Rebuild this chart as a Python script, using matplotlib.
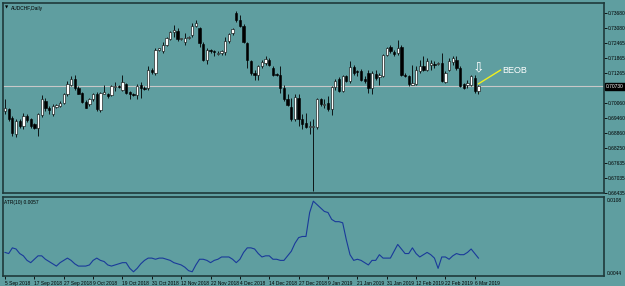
import matplotlib.pyplot as plt
import numpy as np
import pandas as pd

plt.close('all')

# daily AUDCHF candles
opens = [0.6973, 0.6980, 0.6947, 0.6880, 0.6933, 0.6913, 0.6953, 0.6940, 0.6920, 0.6907,
         0.6957, 0.7013, 0.6987, 0.6960, 0.6991, 0.6993, 0.7007, 0.7040, 0.7077, 0.7104,
         0.7067, 0.7047, 0.7011, 0.7000, 0.7020, 0.7043, 0.6976, 0.7043, 0.7040, 0.7037,
         0.7069, 0.7073, 0.7060, 0.7083, 0.7051, 0.7043, 0.7037, 0.7080, 0.7067, 0.7067,
         0.7140, 0.7127, 0.7220, 0.7213, 0.7240, 0.7264, 0.7291, 0.7296, 0.7263, 0.7251,
         0.7267, 0.7280, 0.7317, 0.7307, 0.7243, 0.7180, 0.7220, 0.7213, 0.7203, 0.7207,
         0.7211, 0.7256, 0.7287, 0.7367, 0.7340, 0.7317, 0.7247, 0.7176, 0.7127, 0.7117,
         0.7153, 0.7167, 0.7180, 0.7147, 0.7123, 0.7117, 0.7067, 0.7020, 0.6989, 0.6940,
         0.7024, 0.6940, 0.6927, 0.6909, 0.6909, 0.6909, 0.7020, 0.6997, 0.7007, 0.6980,
         0.7069, 0.7104, 0.7053, 0.7113, 0.7093, 0.7149, 0.7136, 0.7136, 0.7104, 0.7127,
         0.7067, 0.7123, 0.7109, 0.7113, 0.7200, 0.7233, 0.7209, 0.7207, 0.7233, 0.7120,
         0.7113, 0.7080, 0.7083, 0.7136, 0.7153, 0.7137, 0.7160, 0.7163, 0.7163, 0.7167,
         0.7091, 0.7140, 0.7171, 0.7180, 0.7147, 0.7083, 0.7080, 0.7080, 0.7107, 0.7056]
highs = [0.7020, 0.6987, 0.6953, 0.6940, 0.6940, 0.6967, 0.6960, 0.6944, 0.6927, 0.6967,
         0.7037, 0.7027, 0.6993, 0.7000, 0.7003, 0.7013, 0.7047, 0.7093, 0.7113, 0.7120,
         0.7073, 0.7051, 0.7016, 0.7027, 0.7047, 0.7051, 0.7051, 0.7080, 0.7047, 0.7077,
         0.7091, 0.7080, 0.7117, 0.7087, 0.7053, 0.7047, 0.7083, 0.7091, 0.7073, 0.7153,
         0.7147, 0.7227, 0.7229, 0.7253, 0.7271, 0.7296, 0.7320, 0.7307, 0.7269, 0.7287,
         0.7277, 0.7327, 0.7340, 0.7313, 0.7251, 0.7227, 0.7224, 0.7220, 0.7213, 0.7220,
         0.7273, 0.7287, 0.7307, 0.7376, 0.7360, 0.7323, 0.7251, 0.7180, 0.7140, 0.7160,
         0.7180, 0.7193, 0.7187, 0.7153, 0.7127, 0.7153, 0.7080, 0.7040, 0.7027, 0.7043,
         0.7040, 0.6960, 0.6967, 0.6933, 0.6940, 0.7027, 0.7027, 0.7020, 0.7033, 0.7073,
         0.7104, 0.7109, 0.7117, 0.7120, 0.7173, 0.7160, 0.7140, 0.7144, 0.7113, 0.7140,
         0.7133, 0.7140, 0.7127, 0.7203, 0.7233, 0.7240, 0.7220, 0.7260, 0.7240, 0.7127,
         0.7120, 0.7160, 0.7153, 0.7180, 0.7193, 0.7187, 0.7180, 0.7173, 0.7171, 0.7207,
         0.7133, 0.7187, 0.7193, 0.7193, 0.7153, 0.7087, 0.7100, 0.7120, 0.7120, 0.7080]
lows = [0.6960, 0.6933, 0.6873, 0.6867, 0.6907, 0.6900, 0.6931, 0.6907, 0.6900, 0.6873,
        0.6949, 0.6973, 0.6960, 0.6953, 0.6987, 0.6989, 0.7003, 0.7033, 0.7073, 0.7060,
        0.7040, 0.7007, 0.6984, 0.6993, 0.7013, 0.6973, 0.6971, 0.7040, 0.7027, 0.7033,
        0.7056, 0.7067, 0.7056, 0.7043, 0.7020, 0.7033, 0.7020, 0.7027, 0.7060, 0.7060,
        0.7123, 0.7120, 0.7216, 0.7207, 0.7237, 0.7260, 0.7273, 0.7256, 0.7259, 0.7240,
        0.7264, 0.7273, 0.7313, 0.7233, 0.7173, 0.7163, 0.7207, 0.7193, 0.7197, 0.7200,
        0.7200, 0.7247, 0.7280, 0.7333, 0.7313, 0.7247, 0.7147, 0.7120, 0.7100, 0.7100,
        0.7147, 0.7160, 0.7153, 0.7113, 0.7113, 0.7047, 0.7013, 0.6993, 0.6933, 0.6933,
        0.6913, 0.6900, 0.6904, 0.6880, 0.6653, 0.6900, 0.6993, 0.6987, 0.6973, 0.6957,
        0.7060, 0.7051, 0.7051, 0.7091, 0.7087, 0.7120, 0.7113, 0.7093, 0.7087, 0.7047,
        0.7043, 0.7100, 0.7080, 0.7109, 0.7193, 0.7207, 0.7193, 0.7200, 0.7113, 0.7109,
        0.7073, 0.7077, 0.7080, 0.7127, 0.7133, 0.7133, 0.7140, 0.7147, 0.7157, 0.7091,
        0.7087, 0.7133, 0.7160, 0.7140, 0.7069, 0.7064, 0.7067, 0.7073, 0.7047, 0.7043]
closes = [0.6987, 0.6940, 0.6887, 0.6933, 0.6913, 0.6953, 0.6936, 0.6913, 0.6904, 0.6960,
          0.7020, 0.6987, 0.6979, 0.6993, 0.6996, 0.7007, 0.7040, 0.7083, 0.7104, 0.7067,
          0.7043, 0.7011, 0.6987, 0.7020, 0.7043, 0.6980, 0.7047, 0.7051, 0.7033, 0.7073,
          0.7073, 0.7069, 0.7089, 0.7047, 0.7043, 0.7037, 0.7076, 0.7067, 0.7064, 0.7140,
          0.7131, 0.7220, 0.7227, 0.7240, 0.7267, 0.7291, 0.7300, 0.7264, 0.7267, 0.7267,
          0.7273, 0.7317, 0.7327, 0.7247, 0.7180, 0.7220, 0.7213, 0.7209, 0.7207, 0.7213,
          0.7256, 0.7283, 0.7304, 0.7340, 0.7317, 0.7251, 0.7180, 0.7127, 0.7117, 0.7153,
          0.7171, 0.7184, 0.7157, 0.7120, 0.7117, 0.7067, 0.7020, 0.6997, 0.6940, 0.7029,
          0.6940, 0.6923, 0.6909, 0.6912, 0.6912, 0.7020, 0.7000, 0.7003, 0.6980, 0.7069,
          0.7096, 0.7056, 0.7113, 0.7096, 0.7149, 0.7127, 0.7129, 0.7100, 0.7096, 0.7067,
          0.7127, 0.7107, 0.7117, 0.7200, 0.7229, 0.7213, 0.7204, 0.7229, 0.7117, 0.7113,
          0.7083, 0.7087, 0.7140, 0.7153, 0.7140, 0.7173, 0.7167, 0.7157, 0.7167, 0.7093,
          0.7127, 0.7173, 0.7187, 0.7147, 0.7073, 0.7067, 0.7087, 0.7113, 0.7056, 0.7073]

# ATR(10) panel
atr = [0.0062, 0.0061, 0.0066, 0.0065, 0.0061, 0.0059, 0.0055, 0.0053, 0.0056, 0.0059,
       0.0059, 0.0056, 0.0054, 0.0052, 0.0050, 0.0053, 0.0055, 0.0057, 0.0055, 0.0052,
       0.0050, 0.0050, 0.0050, 0.0051, 0.0055, 0.0057, 0.0055, 0.0054, 0.0051, 0.0050,
       0.0051, 0.0052, 0.0053, 0.0053, 0.0048, 0.0045, 0.0048, 0.0052, 0.0055, 0.0057,
       0.0057, 0.0056, 0.0057, 0.0057, 0.0056, 0.0055, 0.0053, 0.0052, 0.0051, 0.0049,
       0.0046, 0.0045, 0.0051, 0.0056, 0.0056, 0.0055, 0.0053, 0.0055, 0.0056, 0.0058,
       0.0058, 0.0058, 0.0056, 0.0053, 0.0056, 0.0062, 0.0066, 0.0066, 0.0065, 0.0061,
       0.0058, 0.0059, 0.0059, 0.0056, 0.0056, 0.0055, 0.0055, 0.0059, 0.0063, 0.0070,
       0.0075, 0.0076, 0.0076, 0.0097, 0.0107, 0.0104, 0.0101, 0.0098, 0.0097, 0.0091,
       0.0089, 0.0089, 0.0088, 0.0073, 0.0060, 0.0055, 0.0056, 0.0055, 0.0053, 0.0051,
       0.0055, 0.0055, 0.0060, 0.0057, 0.0057, 0.0057, 0.0063, 0.0069, 0.0065, 0.0061,
       0.0061, 0.0066, 0.0061, 0.0058, 0.0060, 0.0062, 0.0060, 0.0057, 0.0048, 0.0058,
       0.0058, 0.0056, 0.0059, 0.0061, 0.0060, 0.0060, 0.0062, 0.0065, 0.0061, 0.0057]

price_ticks = [0.73680, 0.73080, 0.72465, 0.71865, 0.71265, 0.70060, 0.69460,
               0.68860, 0.68250, 0.67635, 0.67035, 0.66435]
atr_ticks = [0.0108, 0.0044]

dates = pd.bdate_range('2018-09-05', '2019-03-07')
dates = dates.drop([pd.Timestamp('2018-12-25'), pd.Timestamp('2019-01-01')])

o = np.array(opens)
h = np.array(highs)
l = np.array(lows)
c = np.array(closes)
idx = np.arange(len(c))

bg = '#5F9EA0'
frame = '#1f3a3a'
small = 3.5
plt.rcParams['font.family'] = ['Liberation Sans', 'DejaVu Sans']

fig = plt.figure(figsize=(6.25, 2.86), dpi=100, facecolor=bg)
ax = fig.add_axes([0.0048, 0.325, 0.9616, 0.6645], facecolor=bg)
ax2 = fig.add_axes([0.0048, 0.035, 0.9616, 0.276], facecolor=bg)

# candles
up = c >= o
ax.vlines(idx, l, h, color='black', lw=0.6, zorder=2)
body_low = np.minimum(o, c)
body_h = np.maximum(np.abs(c - o), 0.00003)
ax.bar(idx[up], body_h[up], bottom=body_low[up], width=0.62,
       color='white', edgecolor='black', lw=0.4, zorder=3)
ax.bar(idx[~up], body_h[~up], bottom=body_low[~up], width=0.62,
       color='black', edgecolor='black', lw=0.4, zorder=3)

# current price line + label
ax.axhline(c[-1], color='#c8c8c8', lw=0.8, zorder=1)
ax.text(1.003, c[-1], f'{c[-1]:.5f}', transform=ax.get_yaxis_transform(),
        fontsize=small, color='white', va='center', ha='left',
        bbox=dict(boxstyle='square,pad=0.2', fc='black', ec='black'), clip_on=False)

ax.set_xlim(-0.55, 163.2)
ax.set_ylim(0.6648, 0.7408)
ax.set_xticks([])
ax.yaxis.tick_right()
ax.set_yticks(price_ticks)
ax.set_yticklabels([f'{v:.5f}' for v in price_ticks])
ax.tick_params(axis='y', length=2, width=0.6, pad=1, labelsize=small, colors='black')

ax.text(0.004, 0.985, '▼', transform=ax.transAxes, fontsize=3, va='top', ha='left',
        family='DejaVu Sans')
ax.text(0.013, 0.985, 'AUDCHF,Daily', transform=ax.transAxes, fontsize=small,
        va='top', ha='left', color='black')

# pattern marker
last = len(c) - 1
ax.text(last, h[-1] + 0.0042, '⇩', fontsize=10, color='white', ha='center', va='bottom',
        family='DejaVu Sans')
ax.plot([last, last + 6], [c[-1] + 0.0010, c[-1] + 0.0065], color='#f0f020', lw=1.0)
ax.text(last + 6.6, c[-1] + 0.0065, 'BEOB', fontsize=6.5, color='white',
        va='center', ha='left')

# ATR panel
ax2.plot(idx, atr, color='#1a3a9a', lw=0.8)
ax2.set_xlim(-0.55, 163.2)
ax2.set_ylim(0.00413, 0.01106)
ax2.yaxis.tick_right()
ax2.set_yticks(atr_ticks)
ax2.set_yticklabels([f'{v:.4f}' for v in atr_ticks])
ax2.tick_params(axis='y', length=0, pad=2, labelsize=small, colors='black')
ax2.text(0.002, 0.96, 'ATR(10) 0.0057', transform=ax2.transAxes, fontsize=small,
         va='top', ha='left', color='black')

tick_pos = idx[::8]
ax2.set_xticks(tick_pos)
ax2.set_xticklabels([f'{dates[i].day} {dates[i].strftime("%b %Y")}' for i in tick_pos],
                    ha='left')
ax2.tick_params(axis='x', length=2, width=0.6, pad=1.5, labelsize=small, colors='black')

for a in (ax, ax2):
    for s in a.spines.values():
        s.set_color(frame)
        s.set_linewidth(1.2)

plt.savefig('out.png', dpi=100, facecolor=bg)
